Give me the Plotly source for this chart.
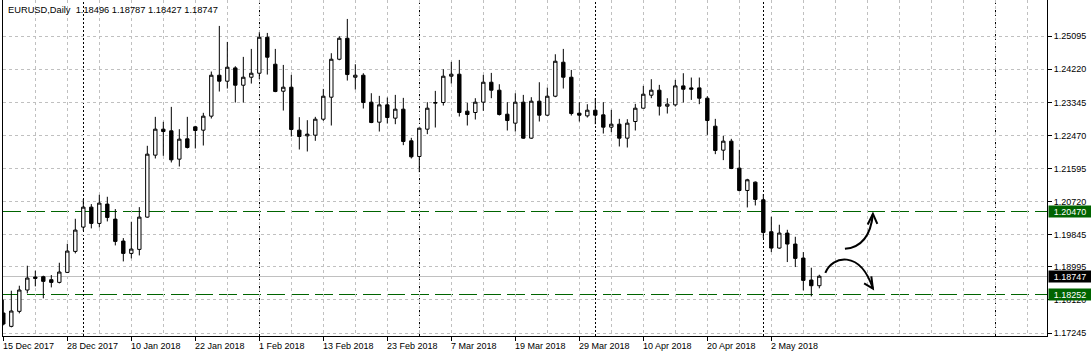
import pandas as pd
import plotly.graph_objects as go

symbol = "EURUSD,Daily"

# trading days shown (Dec 25 and Jan 1 have no bars)
dates = pd.bdate_range("2017-12-15", "2018-05-10", freq="C",
                       holidays=["2017-12-25", "2018-01-01"])

opens = [1.17774, 1.17421, 1.17818, 1.18382, 1.18725, 1.18734, 1.18655, 1.18584, 1.18849, 1.19404,
         1.20047, 1.20575, 1.20144, 1.20655, 1.20258, 1.19677, 1.19351, 1.19457, 1.20311, 1.21950,
         1.22637, 1.22593, 1.21844, 1.22382, 1.22699, 1.22611, 1.22981, 1.24064, 1.23906, 1.24258,
         1.23800, 1.24011, 1.24117, 1.25069, 1.24355, 1.23641, 1.23747, 1.22611, 1.22461, 1.22478,
         1.22901, 1.23483, 1.24487, 1.25042, 1.24011, 1.24064, 1.23351, 1.22822, 1.23280, 1.22928,
         1.23166, 1.22329, 1.21915, 1.22637, 1.23324, 1.23342, 1.24038, 1.24091, 1.23113, 1.23078,
         1.23351, 1.23879, 1.23668, 1.23033, 1.22796, 1.23351, 1.22399, 1.23377, 1.23007, 1.23509,
         1.24408, 1.24011, 1.23060, 1.22989, 1.23139, 1.23016, 1.22690, 1.22769, 1.22399, 1.22840,
         1.23192, 1.23536, 1.23668, 1.23245, 1.23280, 1.23782, 1.23729, 1.23729, 1.23456, 1.22716,
         1.22082, 1.22320, 1.21606, 1.21016, 1.21236, 1.20769, 1.19924, 1.19492, 1.19888, 1.19598,
         1.19228, 1.18646, 1.18496]
highs = [1.18126, 1.18364, 1.18496, 1.19025, 1.18893, 1.18761, 1.18778, 1.19104, 1.19606, 1.20267,
         1.20787, 1.20655, 1.20901, 1.20849, 1.20523, 1.19756, 1.20188, 1.20575, 1.22197, 1.22963,
         1.22831, 1.23227, 1.22637, 1.22963, 1.22725, 1.23069, 1.24161, 1.25368, 1.24945, 1.24302,
         1.24549, 1.24760, 1.25201, 1.25183, 1.24760, 1.24337, 1.24073, 1.22954, 1.22875, 1.22963,
         1.23703, 1.24646, 1.25095, 1.25553, 1.24355, 1.24117, 1.23588, 1.23518, 1.23474, 1.23544,
         1.23465, 1.22408, 1.22681, 1.23351, 1.23650, 1.24223, 1.24417, 1.24469, 1.23333, 1.23456,
         1.24073, 1.24126, 1.23826, 1.23351, 1.23588, 1.23544, 1.23483, 1.23879, 1.23738, 1.24619,
         1.24760, 1.24205, 1.23351, 1.23298, 1.23456, 1.23351, 1.23148, 1.22910, 1.22901, 1.23307,
         1.23782, 1.23959, 1.23809, 1.23456, 1.23941, 1.24117, 1.24003, 1.24003, 1.23509, 1.22910,
         1.22461, 1.22382, 1.22091, 1.21324, 1.21254, 1.20919, 1.20320, 1.20109, 1.19976, 1.19791,
         1.19386, 1.18972, 1.18787]
lows = [1.17448, 1.17395, 1.17765, 1.18294, 1.18479, 1.18162, 1.18452, 1.18558, 1.18831, 1.19351,
        1.19950, 1.20012, 1.20038, 1.20197, 1.19562, 1.19139, 1.19219, 1.19298, 1.20294, 1.21862,
        1.21932, 1.21756, 1.21650, 1.22126, 1.22126, 1.22205, 1.22919, 1.23633, 1.23712, 1.23342,
        1.23342, 1.23844, 1.23959, 1.24082, 1.23615, 1.23130, 1.22443, 1.22100, 1.22047, 1.22329,
        1.22857, 1.22734, 1.24461, 1.23923, 1.23685, 1.23183, 1.22796, 1.22575, 1.22787, 1.22769,
        1.22214, 1.21862, 1.21500, 1.22505, 1.22681, 1.23262, 1.23844, 1.22972, 1.22734, 1.22893,
        1.23122, 1.23456, 1.22998, 1.22602, 1.22575, 1.22382, 1.22382, 1.22840, 1.22989, 1.23483,
        1.23712, 1.22998, 1.22840, 1.22945, 1.22769, 1.22522, 1.22558, 1.22179, 1.22152, 1.22602,
        1.23183, 1.23456, 1.22998, 1.23051, 1.23236, 1.23342, 1.23412, 1.23298, 1.22487, 1.21976,
        1.21818, 1.21580, 1.20990, 1.20567, 1.20619, 1.19756, 1.19386, 1.19474, 1.19122, 1.18990,
        1.18373, 1.18214, 1.18427]
closes = [1.17483, 1.17827, 1.18382, 1.18699, 1.18690, 1.18611, 1.18584, 1.18858, 1.19413, 1.19968,
          1.20575, 1.20144, 1.20681, 1.20302, 1.19668, 1.19351, 1.19465, 1.20311, 1.21976, 1.22637,
          1.22575, 1.21826, 1.22373, 1.22152, 1.22602, 1.22981, 1.24064, 1.23906, 1.24276, 1.23800,
          1.24011, 1.24117, 1.25069, 1.24540, 1.23633, 1.23747, 1.22628, 1.22443, 1.22505, 1.22901,
          1.23509, 1.24487, 1.25042, 1.24082, 1.24064, 1.23342, 1.22813, 1.23280, 1.22945, 1.23166,
          1.22311, 1.21906, 1.22663, 1.23192, 1.23342, 1.24038, 1.24091, 1.23078, 1.23025, 1.23351,
          1.23879, 1.23668, 1.23025, 1.22866, 1.23351, 1.22399, 1.23377, 1.23007, 1.23509, 1.24434,
          1.24011, 1.23051, 1.23007, 1.23139, 1.23007, 1.22690, 1.22769, 1.22399, 1.22796, 1.23192,
          1.23562, 1.23668, 1.23245, 1.23298, 1.23782, 1.23694, 1.23694, 1.23456, 1.22866, 1.22073,
          1.22320, 1.21597, 1.21016, 1.21298, 1.20778, 1.19906, 1.19492, 1.19888, 1.19598, 1.19219,
          1.18637, 1.18496, 1.18747]

price_ticks = [1.17245, 1.18120, 1.18995, 1.19845, 1.20720, 1.21595, 1.22470, 1.23345, 1.24220, 1.25095]
levels = [1.20470, 1.18252]           # horizontal dashed green levels
future_separator = 124                 # period separator drawn in the empty future area
label_step = 8                         # a date label every 8 bars
grid_step = 4

# arrows drawn on the chart (bar index, price)
arrow_up = {"path": [(105.2, 1.19472), (108.3, 1.19532), (108.7, 1.20399)],
            "head": [(108.05, 1.20115), (108.7, 1.20399), (109.25, 1.20134)]}
arrow_down = {"path": [(102.75, 1.18835), (103.6, 1.19293), (107.1, 1.19452), (108.7, 1.18419)],
              "head": [(107.6, 1.18559), (108.7, 1.18419), (108.5, 1.18745)]}

idx = list(range(len(dates)))
tick_idx = idx[::label_step]
tick_text = [f"{dates[i].day} {dates[i].strftime('%b %Y')}" for i in tick_idx]
month_starts = [i for i in idx[1:] if dates[i].month != dates[i - 1].month]

GRID = "#c0c0c0"
GREEN = "#006400"
FONT = "Liberation Sans"

fig = go.Figure(go.Candlestick(
    x=idx, open=opens, high=highs, low=lows, close=closes,
    increasing=dict(line=dict(color="black", width=1), fillcolor="white"),
    decreasing=dict(line=dict(color="black", width=1), fillcolor="black"),
    whiskerwidth=0, hoverinfo="skip"))

shapes = []
for lv in levels:
    shapes.append(dict(type="line", xref="paper", x0=0, x1=1, yref="y", y0=lv, y1=lv,
                       line=dict(color=GREEN, width=1, dash="18px,6px"), layer="below"))
shapes.append(dict(type="line", xref="paper", x0=0, x1=1, yref="y", y0=closes[-1], y1=closes[-1],
                   line=dict(color=GRID, width=1), layer="below"))
for m in month_starts + [future_separator]:
    shapes.append(dict(type="line", xref="x", x0=m, x1=m, yref="paper", y0=0, y1=1,
                       line=dict(color="black", width=1, dash="2px,2px"), layer="below"))
n_straight = len(shapes)


def path_of(pts):
    if len(pts) == 3:
        (a, b), (c, d), (e, f) = pts
        return f"M {a},{b} Q {c},{d} {e},{f}"
    (a, b), (c, d), (e, f), (g, h) = pts
    return f"M {a},{b} C {c},{d} {e},{f} {g},{h}"


for arr in (arrow_up, arrow_down):
    shapes.append(dict(type="path", xref="x", yref="y", path=path_of(arr["path"]),
                       line=dict(color="black", width=2)))
    (a, b), (c, d), (e, f) = arr["head"]
    shapes.append(dict(type="path", xref="x", yref="y", path=f"M {a},{b} L {c},{d} L {e},{f}",
                       line=dict(color="black", width=2)))

annotations = []
# title with OHLC of the last bar
annotations.append(dict(xref="paper", yref="paper", x=0, y=1, xanchor="left", yanchor="top",
                        xshift=3, yshift=-3, showarrow=False,
                        text=f"{symbol}\u00a0\u00a0{opens[-1]:.5f} {highs[-1]:.5f} {lows[-1]:.5f} {closes[-1]:.5f}",
                        font=dict(family=FONT, size=9.3, color="black")))
# date labels, left aligned at their tick
for i, t in zip(tick_idx, tick_text):
    annotations.append(dict(xref="x", yref="paper", x=i, y=0, xanchor="left", yanchor="top",
                            xshift=-2, yshift=-3, showarrow=False, text=t,
                            font=dict(family=FONT, size=9, color="black")))
# price flags on the right axis
for val, bg in [(levels[0], GREEN), (closes[-1], "black"), (levels[1], GREEN)]:
    annotations.append(dict(xref="paper", yref="y", x=1, y=val, xanchor="left", yanchor="middle",
                            xshift=1, showarrow=False, text=f"{val:.5f}", bgcolor=bg,
                            width=42, height=11, borderpad=0, align="center",
                            font=dict(family=FONT, size=9, color="white")))

fig.update_layout(
    width=1091, height=357, margin=dict(l=3, r=44, t=0, b=21),
    paper_bgcolor="white", plot_bgcolor="white", showlegend=False,
    font=dict(family=FONT, size=9, color="black"),
    boxgap=0.4,
    shapes=shapes, annotations=annotations,
    xaxis=dict(range=[-0.04, 130.46], tickmode="array", tickvals=tick_idx, ticktext=[""] * len(tick_idx),
               showticklabels=False, ticks="outside", ticklen=4, tickcolor="black",
               showline=True, linecolor="black", linewidth=1, zeroline=False,
               showgrid=True, gridcolor=GRID, griddash="3px,3px", gridwidth=1,
               minor=dict(tickmode="linear", tick0=0, dtick=grid_step, showgrid=True,
                          gridcolor=GRID, griddash="3px,3px", gridwidth=1),
               rangeslider=dict(visible=False), fixedrange=True),
    yaxis=dict(side="right", range=[1.17166, 1.26054], tickmode="array", tickvals=price_ticks,
               ticktext=[f"{v:.5f}" for v in price_ticks], ticks="outside", ticklen=4, tickcolor="black",
               showline=True, mirror=True, linecolor="black", linewidth=1, zeroline=False,
               showgrid=True, gridcolor=GRID, griddash="3px,3px", gridwidth=1,
               tickfont=dict(family=FONT, size=9, color="black"), fixedrange=True),
)

post = (
    "document.body.style.margin='0px';document.body.style.overflow='hidden';"
    "document.querySelectorAll('.shapelayer path').forEach(function(p){"
    "var k=parseInt(p.getAttribute('data-index'));"
    "if(!isNaN(k)&&k<%d){p.style.shapeRendering='crispEdges';}});" % n_straight
)
fig.write_html("out.html", config={"displayModeBar": False}, post_script=post)
